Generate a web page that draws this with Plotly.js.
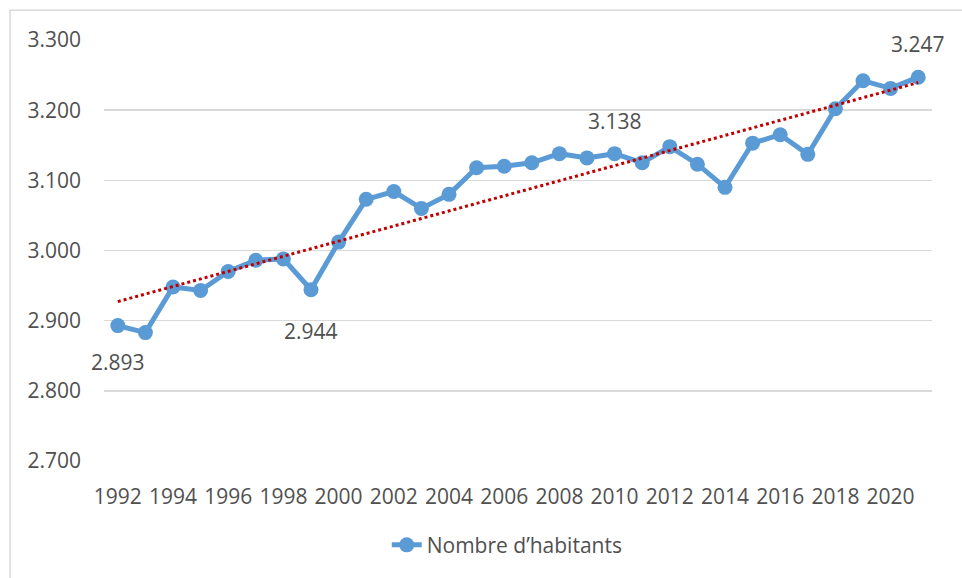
<!DOCTYPE html>
<html>
<head>
<meta charset="utf-8">
<script src="https://cdn.plot.ly/plotly-3.0.1.min.js"></script>
<style>html,body{margin:0;padding:0;background:#fff;}#chart{width:962px;height:578px;}</style>
</head>
<body>
<div id="chart"></div>
<script>
const years = [1992,1993,1994,1995,1996,1997,1998,1999,2000,2001,2002,2003,2004,2005,2006,2007,2008,2009,2010,2011,2012,2013,2014,2015,2016,2017,2018,2019,2020,2021];
const habitants = [2893,2883,2948,2943,2970,2986,2988,2944,3012,3073,3084,3060,3080,3118,3120,3125,3138,3132,3138,3125,3148,3123,3090,3153,3165,3137,3202,3242,3231,3247];
const seriesName = "Nombre d\u2019habitants";
const labelYears = [1992,1999,2010,2021];
const labelShift = [-36,-41,33,33];

// Linear trendline (least squares) derived from the data
const n = years.length;
const mx = years.reduce((a,b)=>a+b,0)/n;
const my = habitants.reduce((a,b)=>a+b,0)/n;
let sxy=0, sxx=0;
for(let i=0;i<n;i++){sxy+=(years[i]-mx)*(habitants[i]-my);sxx+=(years[i]-mx)*(years[i]-mx);}
const slope = sxy/sxx, icpt = my - slope*mx;
const trendX = [years[0], years[n-1]];
const trendY = trendX.map(x=>icpt+slope*x);

const fontFam = "'Open Sans', 'Liberation Sans', sans-serif";
const txtColor = "#505050";
const fs = 21;

const traces = [
  {x: years, y: habitants, type:'scatter', mode:'lines+markers', name: seriesName,
   line:{color:'#5B9BD5', width:5}, marker:{color:'#5B9BD5', size:15}, hoverinfo:'x+y'},
  {x: trendX, y: trendY, type:'scatter', mode:'lines', showlegend:false,
   line:{color:'#C00000', width:3, dash:'dot'}, hoverinfo:'skip'}
];

const annotations = labelYears.map((yr,k)=>({
  x: yr, y: habitants[years.indexOf(yr)], xref:'x', yref:'y',
  text: habitants[years.indexOf(yr)].toLocaleString('de-DE'),
  showarrow:false, yshift: labelShift[k],
  font:{family:fontFam, size:fs, color:txtColor}
}));

const layout = {
  width:962, height:578,
  margin:{l:104, r:30, t:40, b:115},
  paper_bgcolor:'#ffffff', plot_bgcolor:'#ffffff',
  separators: ',.',
  font:{family:fontFam, size:fs, color:txtColor},
  xaxis:{range:[1991.5,2021.5], tick0:1992, dtick:2, showgrid:false, zeroline:false,
         showline:false, ticks:'', ticklabelstandoff:21, tickfont:{size:fs, color:txtColor}, fixedrange:true},
  yaxis:{range:[2700,3300], dtick:100, tickformat:',d', showgrid:true, gridcolor:'#D9D9D9', gridwidth:1.5,
         zeroline:false, showline:false, ticks:'', ticklabelstandoff:22, tickfont:{size:fs, color:txtColor}, fixedrange:true},
  showlegend:true,
  legend:{orientation:'h', x:0.487, xanchor:'center', y:-0.2, yanchor:'middle',
          font:{family:fontFam, size:fs, color:txtColor}},
  annotations: annotations,
  shapes:[{type:'rect', xref:'paper', yref:'paper', x0:-0.1135, x1:1.2, y0:-0.6, y1:1.0709,
           line:{color:'#D9D9D9', width:1.5}, fillcolor:'rgba(0,0,0,0)', layer:'below'}]
};

Plotly.newPlot('chart', traces, layout, {displayModeBar:false, staticPlot:true});
</script>
</body>
</html>
